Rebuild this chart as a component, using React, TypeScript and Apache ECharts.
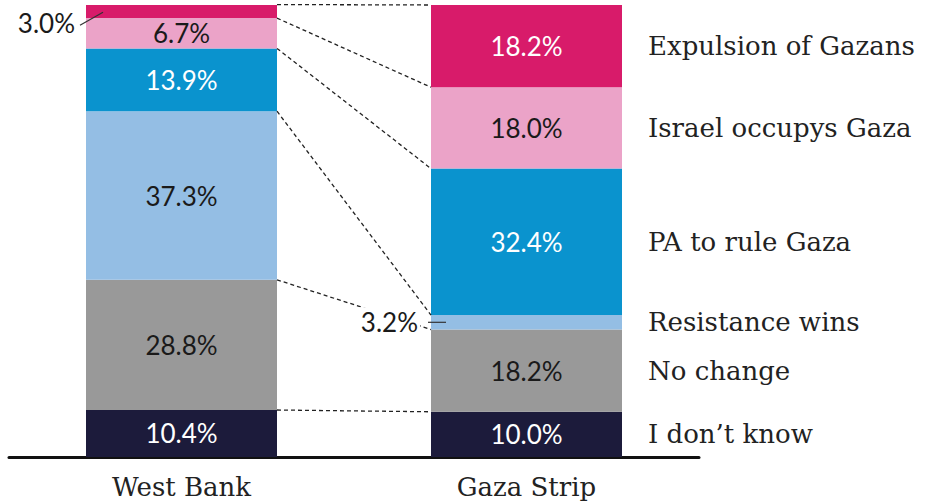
import React, { useEffect, useRef } from "react";
import * as echarts from "echarts";

const categories = ["West Bank", "Gaza Strip"];
const segments = [
  "I don’t know",
  "No change",
  "Resistance wins",
  "PA to rule Gaza",
  "Israel occupys Gaza",
  "Expulsion of Gazans",
];
const westBank = [10.4, 28.8, 37.3, 13.9, 6.7, 3.0];
const gazaStrip = [10.0, 18.2, 3.2, 32.4, 18.0, 18.2];
const colors = ["#1c1b3b", "#999999", "#94bee4", "#0a93ce", "#eba3c8", "#d81b6a"];
const labelColors = ["#ffffff", "#1a1a1a", "#1a1a1a", "#ffffff", "#1a1a1a", "#ffffff"];

const BAR_W = 191;
const NUM_FONT = "Lato";
const NUM_SIZE = 26;
const SERIF = "DejaVu Serif";
const SERIF_SIZE = 26;

function cumulative(arr: number[]) {
  const out: number[] = [];
  let s = 0;
  arr.forEach((v) => {
    s += v;
    out.push(+s.toFixed(2));
  });
  return out;
}

export default function App() {
  const ref = useRef<HTMLDivElement>(null);
  useEffect(() => {
    if (!ref.current) return;
    const chart = echarts.init(ref.current, undefined, { renderer: "svg" });
    const wbCum = cumulative(westBank);
    const gzCum = cumulative(gazaStrip);
    const wbCenters = westBank.map((v, i) => wbCum[i] - v / 2);
    const gzCenters = gazaStrip.map((v, i) => gzCum[i] - v / 2);

    const barSeries = segments.map((name, i) => ({
      type: "bar",
      name,
      stack: "total",
      barWidth: BAR_W,
      itemStyle: { color: colors[i] },
      data: [westBank[i], gazaStrip[i]].map((v) => ({
        value: v,
        label: {
          show: v >= 5,
          position: "inside",
          formatter: `${v.toFixed(1)}%`,
          color: labelColors[i],
          fontFamily: NUM_FONT,
          fontSize: NUM_SIZE,
        },
      })),
    }));

    const connectors = wbCum.map((v, i) => [0, v, gzCum[i]]);
    const sideLabels = gzCenters.map((c, i) => [1, c, i]);
    const smallLabels: number[][] = [];
    westBank.forEach((v, i) => {
      if (v < 5) smallLabels.push([0, wbCenters[i], v]);
    });
    gazaStrip.forEach((v, i) => {
      if (v < 5) smallLabels.push([1, gzCenters[i], v]);
    });

    const option: any = {
      animation: false,
      grid: { left: 9, right: 227, top: 5, bottom: 44, containLabel: false },
      xAxis: {
        type: "category",
        data: categories,
        axisLine: { lineStyle: { color: "#111", width: 3 } },
        axisTick: { show: false },
        axisLabel: { fontFamily: SERIF, fontSize: SERIF_SIZE, color: "#222", margin: 17 },
      },
      yAxis: { type: "value", min: 0, max: 100, show: false },
      series: [
        ...barSeries,
        {
          type: "custom",
          z: 5,
          encode: { x: 0, y: 1 },
          data: connectors,
          renderItem: (_p: any, api: any) => {
            const a = api.coord([0, api.value(1)]);
            const b = api.coord([1, api.value(2)]);
            return {
              type: "line",
              shape: { x1: a[0] + BAR_W / 2, y1: a[1], x2: b[0] - BAR_W / 2, y2: b[1] },
              style: { stroke: "#222", lineWidth: 1.3, lineDash: [4, 3] },
            };
          },
        },
        {
          type: "custom",
          z: 6,
          encode: { x: 0, y: 1 },
          data: sideLabels,
          renderItem: (_p: any, api: any) => {
            const c = api.coord([1, api.value(1)]);
            return {
              type: "text",
              x: c[0] + BAR_W / 2 + 26,
              y: c[1],
              style: {
                text: segments[api.value(2)],
                fill: "#222",
                fontFamily: SERIF,
                fontSize: SERIF_SIZE,
                align: "left",
                verticalAlign: "middle",
              },
            };
          },
        },
        {
          type: "custom",
          z: 7,
          encode: { x: 0, y: 1 },
          data: smallLabels,
          renderItem: (_p: any, api: any) => {
            const cat = api.value(0);
            const c = api.coord([cat, api.value(1)]);
            const left = c[0] - BAR_W / 2;
            const txt = `${Number(api.value(2)).toFixed(1)}%`;
            if (cat === 0) {
              return {
                type: "group",
                children: [
                  {
                    type: "line",
                    shape: { x1: left - 6, y1: c[1] + 14, x2: left + 17, y2: c[1] + 1 },
                    style: { stroke: "#333", lineWidth: 1.2 },
                  },
                  {
                    type: "text",
                    x: left - 11,
                    y: c[1] + 12,
                    style: {
                      text: txt,
                      fill: "#1a1a1a",
                      fontFamily: NUM_FONT,
                      fontSize: NUM_SIZE,
                      align: "right",
                      verticalAlign: "middle",
                    },
                  },
                ],
              };
            }
            return {
              type: "group",
              children: [
                {
                  type: "line",
                  shape: { x1: left - 3, y1: c[1], x2: left + 15, y2: c[1] },
                  style: { stroke: "#333", lineWidth: 1.2 },
                },
                {
                  type: "text",
                  x: left - 11,
                  y: c[1],
                  style: {
                    text: txt,
                    fill: "#1a1a1a",
                    fontFamily: NUM_FONT,
                    fontSize: NUM_SIZE,
                    align: "right",
                    verticalAlign: "middle",
                    backgroundColor: "#ffffff",
                    padding: [2, 2, 2, 2],
                  },
                },
              ],
            };
          },
        },
      ],
    };
    chart.setOption(option);
    return () => chart.dispose();
  }, []);
  return (
    <div
      ref={ref}
      style={{ position: "fixed", left: 0, top: 0, width: 926, height: 501, background: "#fff" }}
    />
  );
}
